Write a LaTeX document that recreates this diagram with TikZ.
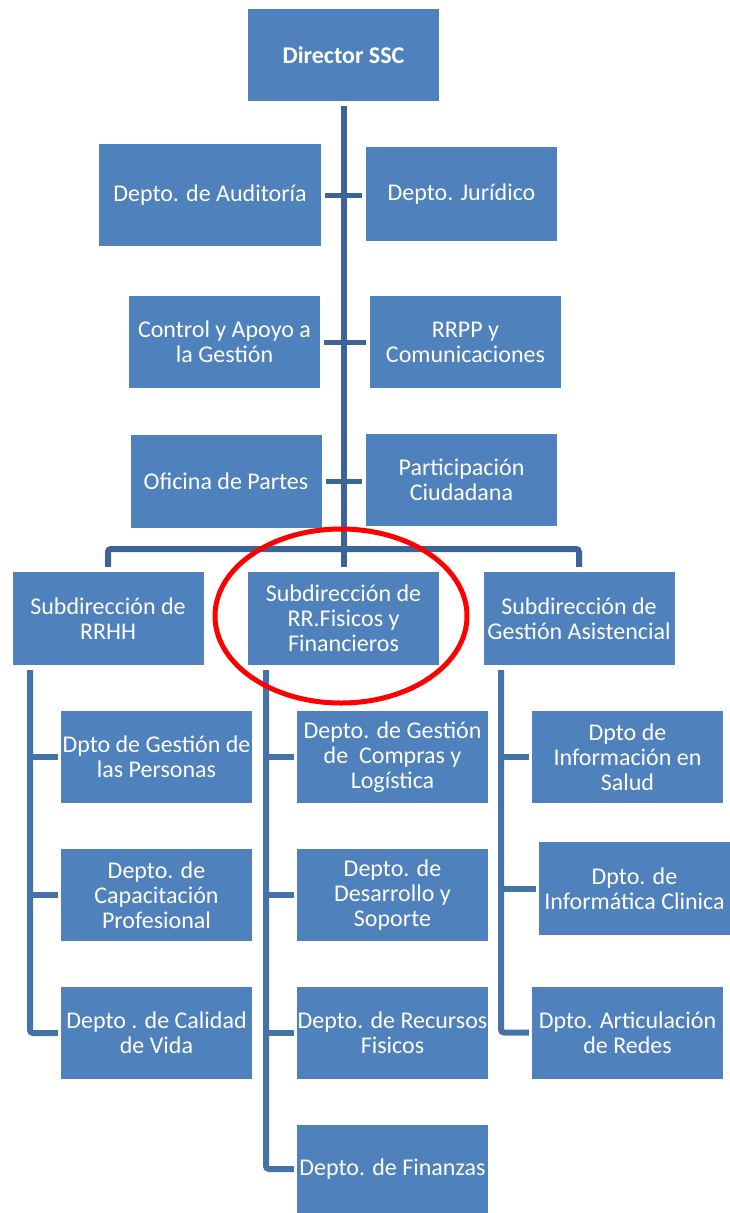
\documentclass[tikz,border=0pt]{standalone}
\usepackage{fontspec}
\setmainfont{Carlito}
\usepackage{tikz}
\definecolor{boxblue}{RGB}{79,129,189}
\definecolor{trunkblue}{RGB}{61,100,150}
\definecolor{linkblue}{RGB}{70,114,170}
\tikzset{
  box/.style={rectangle,fill=boxblue,text=white,align=center,inner sep=0pt,
    minimum width=191pt,minimum height=92pt,font=\fontsize{24}{25}\selectfont},
  trunk/.style={draw=trunkblue,line width=6pt},
  stub/.style={draw=trunkblue,line width=5pt,shorten <=4pt,shorten >=4pt},
  link/.style={draw=linkblue,line width=6pt,rounded corners=3pt,shorten >=3pt}
}

\begin{document}
\begin{tikzpicture}[x=1pt,y=-1pt]
\useasboundingbox (0,0) rectangle (730,1213);
\begin{scope}[every node/.style={box}]
\node[font=\bfseries\fontsize{24}{25}\selectfont] (0) at (343.5,55) {Director SSC};
\node[minimum width=222pt,minimum height=102pt] (1) at (210,195) {Depto. de Auditoría};
\node[minimum height=94pt] (2) at (461.5,194) {Depto. Jurídico};
\node (3) at (224.5,342) {Control y Apoyo a\\la Gestión};
\node (4) at (465.5,342) {RRPP y\\Comunicaciones};
\node[minimum height=93pt] (5) at (226,481.5) {Oficina de Partes};
\node (6) at (461.5,480) {Participación\\Ciudadana};
\node[minimum height=93pt] (7) at (108,618.5) {Subdirección de\\RRHH};
\node[minimum height=93pt] (8) at (343.5,618.5) {Subdirección de\\RR.Fisicos y\\Financieros};
\node[minimum height=93pt] (9) at (579,618.5) {Subdirección de\\Gestión Asistencial};
\node (10) at (156.5,757) {Dpto de Gestión de\\las Personas};
\node (11) at (156.5,895) {Depto. de\\Capacitación\\Profesional};
\node (12) at (156.5,1033) {Depto . de Calidad\\de Vida};
\node (13) at (392.5,757) {Depto. de Gestión\\de~ Compras y\\Logística};
\node (14) at (392.5,895) {Depto. de\\Desarrollo y\\Soporte};
\node (15) at (392.5,1033) {Depto. de Recursos\\Fisicos};
\node[minimum height=88pt] (16) at (392.5,1169) {Depto. de Finanzas};
\node (17) at (627.5,757) {Dpto de\\Información en\\Salud};
\node[minimum height=93pt] (18) at (634.5,888.5) {Dpto. de\\Informática Clinica};
\node (19) at (627.5,1032.5) {Dpto. Articulación\\de Redes};
\end{scope}

\coordinate (bar) at (343.5,549);
\coordinate (c7) at (30,670);
\coordinate (c8) at (266,670);
\coordinate (c9) at (501,670);

\draw[trunk, shorten <=5pt, shorten >=5pt] (0) -- (8);
\draw[stub] (1.east) -- (1.east -| 2.west);
\draw[stub] (3.east) -- (4.west);
\draw[stub] (5.east) -- (5.east -| 6.west);
\draw[trunk, rounded corners=3pt] ([yshift=5pt]7.north) |- (bar) -| ([yshift=5pt]9.north);

\draw[link] (c7) |- (12.west);
\draw[link] (c7 |- 10.west) -- (10.west);
\draw[link] (c7 |- 11.west) -- (11.west);

\draw[link] (c8) |- (16.west);
\draw[link] (c8 |- 13.west) -- (13.west);
\draw[link] (c8 |- 14.west) -- (14.west);
\draw[link] (c8 |- 15.west) -- (15.west);

\draw[link] (c9) |- (19.west);
\draw[link] (c9 |- 17.west) -- (17.west);
\draw[link] (c9 |- 18.west) -- (18.west);

\draw[red, line width=5pt] (341,616) ellipse [x radius=126pt, y radius=87pt];
\end{tikzpicture}
\end{document}
